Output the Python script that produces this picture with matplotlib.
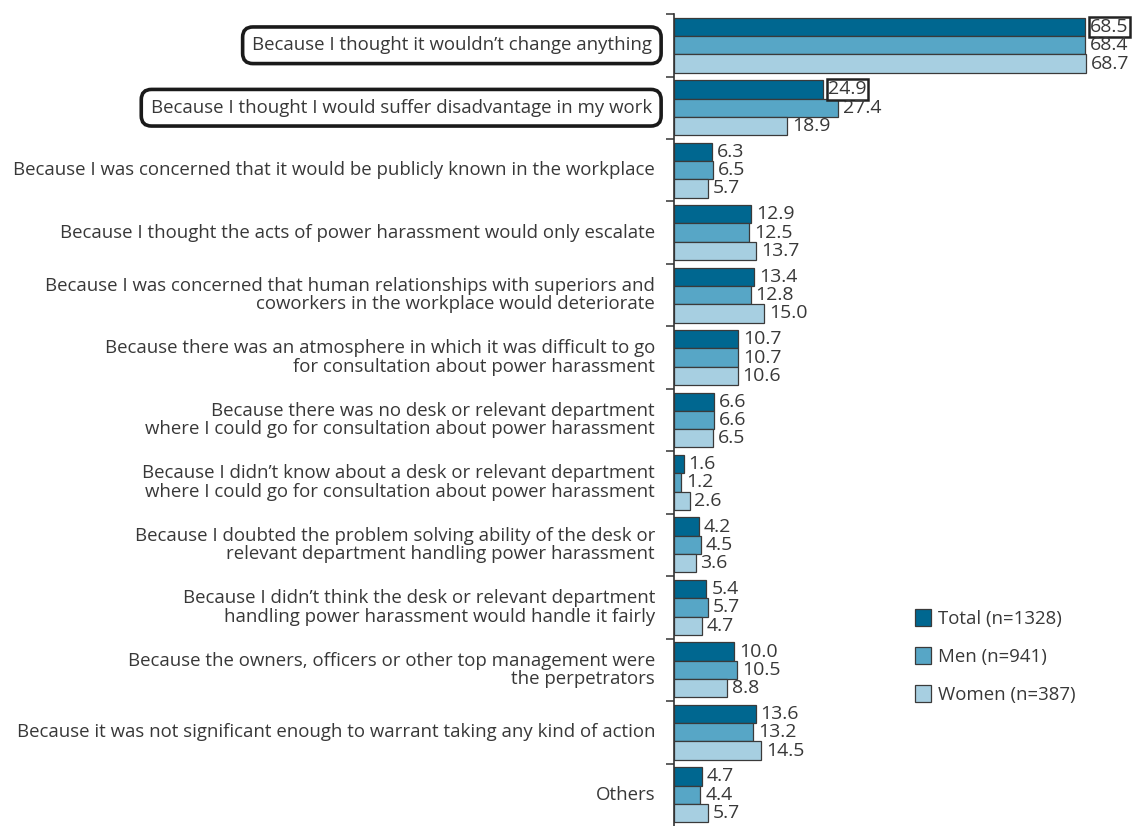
import matplotlib
matplotlib.use('Agg')
from matplotlib import pyplot as plt
from matplotlib.patches import Patch
import numpy as np

# reasons (top to bottom)
reasons = [
    "Because I thought it wouldn\u2019t change anything",
    "Because I thought I would suffer disadvantage in my work",
    "Because I was concerned that it would be publicly known in the workplace",
    "Because I thought the acts of power harassment would only escalate",
    "Because I was concerned that human relationships with superiors and\ncoworkers in the workplace would deteriorate",
    "Because there was an atmosphere in which it was difficult to go\nfor consultation about power harassment",
    "Because there was no desk or relevant department\nwhere I could go for consultation about power harassment",
    "Because I didn\u2019t know about a desk or relevant department\nwhere I could go for consultation about power harassment",
    "Because I doubted the problem solving ability of the desk or\nrelevant department handling power harassment",
    "Because I didn\u2019t think the desk or relevant department\nhandling power harassment would handle it fairly",
    "Because the owners, officers or other top management were\nthe perpetrators",
    "Because it was not significant enough to warrant taking any kind of action",
    "Others",
]
total = [68.5, 24.9, 6.3, 12.9, 13.4, 10.7, 6.6, 1.6, 4.2, 5.4, 10.0, 13.6, 4.7]
men = [68.4, 27.4, 6.5, 12.5, 12.8, 10.7, 6.6, 1.2, 4.5, 5.7, 10.5, 13.2, 4.4]
women = [68.7, 18.9, 5.7, 13.7, 15.0, 10.6, 6.5, 2.6, 3.6, 4.7, 8.8, 14.5, 5.7]
series_names = ["Total (n=1328)", "Men (n=941)", "Women (n=387)"]
highlight_rows = [0, 1]

colors = ["#006790", "#57a6c6", "#a7cfe1"]
txt = "#383838"
plt.rcParams["font.family"] = ["Open Sans", "DejaVu Sans"]
fs = 13.4
vfs = 14

fig = plt.figure(figsize=(11.38, 8.26), dpi=100)
ax = fig.add_axes([0.5923, 0.0, 0.4077, 0.983])

y = np.arange(len(reasons))
h = 0.293
for k, vals in enumerate([total, men, women]):
    pos = y + (k - 1) * h
    ax.barh(pos, vals, height=h, color=colors[k], edgecolor="#3a3a3a", linewidth=0.9)
    for i, v in enumerate(vals):
        if k == 0 and i in highlight_rows:
            ax.text(v + 0.8, pos[i], f"{v:.1f}", va="center", ha="left", fontsize=vfs, color=txt,
                    bbox=dict(boxstyle="square,pad=0.06", fc="white", ec="#222222", lw=1.8))
        else:
            ax.text(v + 0.8, pos[i], f"{v:.1f}", va="center", ha="left", fontsize=vfs, color=txt)

ax.set_xlim(0, 77.3)
ax.set_ylim(len(reasons) - 0.5, -0.5)
ax.set_xticks([])
ax.set_yticks(y)
ax.set_yticklabels([])
ax.tick_params(axis="y", which="major", length=0)
ax.set_yticks(np.arange(len(reasons)) - 0.5, minor=True)
ax.tick_params(axis="y", which="minor", length=6, width=1.2, color="#444444")
for s in ["top", "right", "bottom"]:
    ax.spines[s].set_visible(False)
ax.spines["left"].set_linewidth(1.2)
ax.spines["left"].set_color("#333333")

# category labels
for i, lab in enumerate(reasons):
    if i in highlight_rows:
        ax.annotate(lab, xy=(0, i), xycoords=("axes fraction", "data"), xytext=(-16, 0),
                    textcoords="offset points", ha="right", va="center", fontsize=fs, color=txt,
                    bbox=dict(boxstyle="round,pad=0.5,rounding_size=0.55", fc="white", ec="#1a1a1a", lw=2.6))
    else:
        ax.annotate(lab, xy=(0, i), xycoords=("axes fraction", "data"), xytext=(-13.7, 0),
                    textcoords="offset points", ha="right", va="center", fontsize=fs, color=txt,
                    linespacing=1.05, multialignment="right")

handles = [Patch(facecolor=c, edgecolor="#3a3a3a", linewidth=0.9) for c in colors]
fig.legend(handles, series_names, loc="upper left", bbox_to_anchor=(0.789, 0.283),
           frameon=False, fontsize=13.4, labelcolor=txt, handlelength=0.9, handleheight=1.0,
           handletextpad=0.35, labelspacing=1.05)

fig.savefig("out.png", dpi=100, facecolor="white")
